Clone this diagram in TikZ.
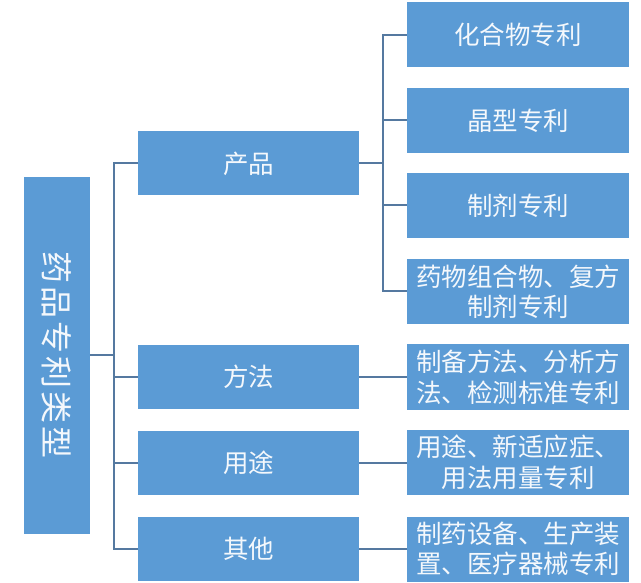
\documentclass[tikz,border=0pt]{standalone}
\usepackage{fontspec}
\newfontfamily\cjk{Noto Sans CJK SC}
\definecolor{boxblue}{HTML}{5B9BD5}
\definecolor{linec}{HTML}{5579A0}
\definecolor{txt}{HTML}{F4F8FC}
\begin{document}
\begin{tikzpicture}[x=1pt,y=-1pt,
  box/.style={fill=boxblue,draw=none,inner sep=0pt,text=txt,align=center,font=\cjk\fontsize{25.5}{30.5}\selectfont},
  lone/.style={box,minimum width=221pt,minimum height=64pt},
  ltwo/.style={box,minimum width=222pt,minimum height=65pt},
  conn/.style={draw=linec,line width=2pt}]
\useasboundingbox (0,0) rectangle (641,583);
\node[box,minimum width=66pt,minimum height=357pt] (root) at (57,355.5) {};
\node[text=txt,font=\cjk\fontsize{32}{32}\selectfont,rotate=-90,inner sep=0pt] (roott) at (root.center) {药\kern3pt 品\kern3pt 专\kern3pt 利\kern3pt 类\kern3pt 型};
\node[lone] (p1) at (248.5,163.5) {产品};
\node[lone] (p2) at (248.5,377) {方法};
\node[lone] (p3) at (248.5,462.5) {用途};
\node[lone] (p4) at (248.5,549) {其他};
\node[ltwo] (c1) at (518,35) {化合物专利};
\node[ltwo] (c2) at (518,120.5) {晶型专利};
\node[ltwo] (c3) at (518,205.5) {制剂专利};
\node[ltwo] (c4) at (518,291.5) {药物组合物、复方\\制剂专利};
\node[ltwo] (c5) at (518,377) {制备方法、分析方\\法、检测标准专利};
\node[ltwo] (c6) at (518,462.5) {用途、新适应症、\\用法用量专利};
\node[ltwo] (c7) at (518,549) {制药设备、生产装\\置、医疗器械专利};
\coordinate (ta) at (114,0);
\coordinate (tb) at (383,0);
\draw[conn] (root.east) -- (root.east -| ta);
\draw[conn] (p1.west) -- (p1.west -| ta) -- (p4.west -| ta) -- (p4.west);
\draw[conn] (p2.west) -- (p2.west -| ta);
\draw[conn] (p3.west) -- (p3.west -| ta);
\draw[conn] (p1.east) -- (p1.east -| tb);
\draw[conn] (c1.west) -- (c1.west -| tb) -- (c4.west -| tb) -- (c4.west);
\draw[conn] (c2.west) -- (c2.west -| tb);
\draw[conn] (c3.west) -- (c3.west -| tb);
\draw[conn] (p2.east) -- (c5.west);
\draw[conn] (p3.east) -- (c6.west);
\draw[conn] (p4.east) -- (c7.west);
\end{tikzpicture}
\end{document}
